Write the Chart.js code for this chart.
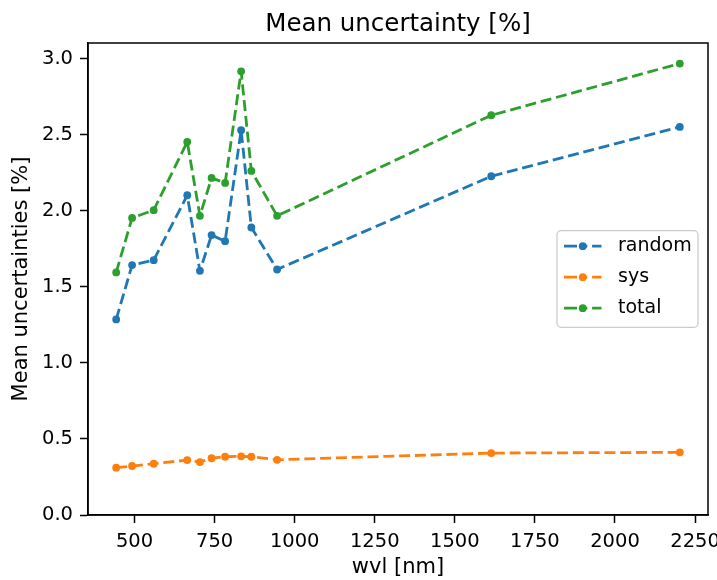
<!DOCTYPE html>
<html>
<head>
<meta charset="utf-8">
<script src="https://cdn.jsdelivr.net/npm/chart.js@4/dist/chart.umd.min.js"></script>
<style>
  html, body { margin: 0; padding: 0; background: #fff; }
  #wrap { width: 717px; height: 580px; }
</style>
</head>
<body>
<div id="wrap"><canvas id="c" width="717" height="580"></canvas></div>
<script>
// ---- data ----
const wavelengths = [442.7, 492.4, 559.8, 664.6, 704.1, 740.5, 782.8, 832.8, 864.7, 945.1, 1613.7, 2202.4];
const randomVals  = [1.286, 1.643, 1.675, 2.102, 1.605, 1.840, 1.800, 2.530, 1.890, 1.614, 2.227, 2.551];
const sysVals     = [0.311, 0.322, 0.337, 0.361, 0.348, 0.373, 0.383, 0.386, 0.383, 0.363, 0.407, 0.412];
const totalVals   = [1.595, 1.953, 2.004, 2.453, 1.967, 2.216, 2.183, 2.917, 2.262, 1.967, 2.628, 2.968];
const seriesNames = ['random', 'sys', 'total'];
const xTickValues = [500, 750, 1000, 1250, 1500, 1750, 2000, 2250];
const yTickValues = [0.0, 0.5, 1.0, 1.5, 2.0, 2.5, 3.0];
const titleText = 'Mean uncertainty [%]';
const xLabel = 'wvl [nm]';
const yLabel = 'Mean uncertainties [%]';

const colors = ['#1f77b4', '#ff7f0e', '#2ca02c'];
const FONT = "'DejaVu Sans', sans-serif";
const DASH = [11, 4.8];
const LW = 2.8;
const PR = 3.9;
const TICK_FS = 19.5;
const LEGEND_FS = 19;
const LABEL_FS = 21;

function pts(vals) { return wavelengths.map((w, i) => ({ x: w, y: vals[i] })); }

const datasets = [randomVals, sysVals, totalVals].map((vals, i) => ({
  label: seriesNames[i],
  data: pts(vals),
  borderColor: colors[i],
  backgroundColor: colors[i],
  borderWidth: LW,
  borderDash: DASH,
  borderJoinStyle: 'round',
  borderCapStyle: 'butt',
  pointRadius: PR,
  pointBorderWidth: 0,
  pointBackgroundColor: colors[i],
  pointBorderColor: colors[i],
  pointHoverRadius: PR,
  tension: 0,
  fill: false
}));

const framePlugin = {
  id: 'frame',
  afterDatasetsDraw(chart) {
    const { ctx, chartArea: a } = chart;
    ctx.save();
    ctx.strokeStyle = '#000';
    ctx.lineWidth = 1.5;
    ctx.strokeRect(a.left, a.top, a.right - a.left, a.bottom - a.top);
    // title
    ctx.fillStyle = '#000';
    ctx.font = '24.5px ' + FONT;
    ctx.textAlign = 'center';
    ctx.textBaseline = 'alphabetic';
    ctx.fillText(titleText, (a.left + a.right) / 2, 30.5);
    // legend (center right)
    const bw = 141, bh = 96.6;
    const bx = a.right - 10 - bw;
    const by = (a.top + a.bottom) / 2 - bh / 2;
    const r = 4;
    ctx.beginPath();
    ctx.moveTo(bx + r, by);
    ctx.lineTo(bx + bw - r, by);
    ctx.arcTo(bx + bw, by, bx + bw, by + r, r);
    ctx.lineTo(bx + bw, by + bh - r);
    ctx.arcTo(bx + bw, by + bh, bx + bw - r, by + bh, r);
    ctx.lineTo(bx + r, by + bh);
    ctx.arcTo(bx, by + bh, bx, by + bh - r, r);
    ctx.lineTo(bx, by + r);
    ctx.arcTo(bx, by, bx + r, by, r);
    ctx.closePath();
    ctx.fillStyle = 'rgba(255,255,255,0.8)';
    ctx.fill();
    ctx.strokeStyle = '#cccccc';
    ctx.lineWidth = 1.3;
    ctx.stroke();
    chart.data.datasets.forEach((ds, i) => {
      const cy = by + 15.5 + i * 31;
      const x0 = bx + 7, x1 = bx + 44.5;
      ctx.strokeStyle = ds.borderColor;
      ctx.lineWidth = LW;
      ctx.setLineDash([13, 4.8, 5.5, 4.8]);
      ctx.beginPath();
      ctx.moveTo(x0, cy);
      ctx.lineTo(x1, cy);
      ctx.stroke();
      ctx.setLineDash([]);
      ctx.fillStyle = ds.borderColor;
      ctx.beginPath();
      ctx.arc((x0 + x1) / 2, cy, PR, 0, Math.PI * 2);
      ctx.fill();
      ctx.fillStyle = '#000';
      ctx.font = LEGEND_FS + 'px ' + FONT;
      ctx.textAlign = 'left';
      ctx.textBaseline = 'middle';
      ctx.fillText(ds.label, bx + 61, cy);
    });
    ctx.restore();
  }
};

new Chart(document.getElementById('c'), {
  type: 'line',
  data: { datasets },
  plugins: [framePlugin],
  options: {
    responsive: false,
    animation: false,
    events: [],
    layout: { padding: { top: 43, right: 9, left: 0, bottom: 0 } },
    plugins: { legend: { display: false }, title: { display: false }, tooltip: { enabled: false } },
    scales: {
      x: {
        type: 'linear',
        min: 354.7,
        max: 2290.4,
        afterFit(s) { s.height = 65; s.paddingLeft = 0; s.paddingRight = 0; },
        afterBuildTicks(s) { s.ticks = xTickValues.map(v => ({ value: v })); },
        ticks: {
          color: '#000',
          font: { family: FONT, size: TICK_FS },
          padding: 7.5,
          maxRotation: 0,
          autoSkip: false,
          includeBounds: false,
          callback: v => String(v)
        },
        grid: { display: true, drawOnChartArea: false, drawTicks: true, tickLength: 8, tickColor: '#000', tickWidth: 1.5 },
        border: { display: true, color: '#000', width: 1.5 },
        title: { display: true, text: xLabel, color: '#000', font: { family: FONT, size: LABEL_FS }, padding: { top: 0, bottom: 0 } }
      },
      y: {
        type: 'linear',
        min: 0,
        max: 3.103,
        afterFit(s) { s.width = 88; s.paddingTop = 0; s.paddingBottom = 0; },
        afterBuildTicks(s) { s.ticks = yTickValues.map(v => ({ value: v })); },
        ticks: {
          color: '#000',
          font: { family: FONT, size: TICK_FS },
          padding: 7,
          autoSkip: false,
          includeBounds: false,
          callback: v => Number(v).toFixed(1)
        },
        grid: { display: true, drawOnChartArea: false, drawTicks: true, tickLength: 8, tickColor: '#000', tickWidth: 1.5 },
        border: { display: true, color: '#000', width: 1.5 },
        title: { display: true, text: yLabel, color: '#000', font: { family: FONT, size: LABEL_FS }, padding: { top: 8.5, bottom: 0 } }
      }
    }
  }
});
</script>
</body>
</html>
